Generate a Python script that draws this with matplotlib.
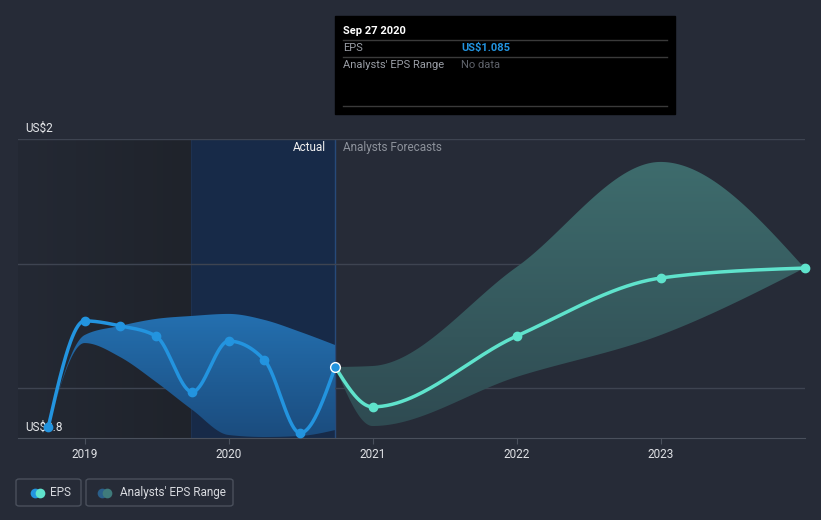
import matplotlib

matplotlib.use("Agg")
import matplotlib.pyplot as plt
import numpy as np
import pandas as pd
from matplotlib.colors import LinearSegmentedColormap
from matplotlib.patches import FancyBboxPatch, Rectangle

plt.rcParams["font.family"] = ["Roboto", "DejaVu Sans"]

# --- data ---
actual_dates = ["2018-09-30", "2018-12-31", "2019-03-31", "2019-06-30", "2019-09-30",
                "2019-12-31", "2020-03-31", "2020-06-30", "2020-09-27"]
actual_eps = [0.844, 1.270, 1.250, 1.209, 0.985, 1.189, 1.113, 0.820, 1.085]
actual_low = [0.844, 1.181, 1.125, 1.025, 0.913, 0.812, 0.804, 0.808, 0.832]
actual_high = [0.844, 1.213, 1.250, 1.278, 1.290, 1.298, 1.274, 1.226, 1.173]

fc_dates = ["2020-09-27", "2020-12-31", "2021-12-31", "2022-12-31", "2023-12-31"]
fc_eps = [1.085, 0.925, 1.209, 1.442, 1.482]
fc_low = [1.085, 0.848, 1.045, 1.213, 1.482]
fc_high = [1.085, 1.089, 1.486, 1.908, 1.482]

year_ticks = [2019, 2020, 2021, 2022, 2023]
y_labels = {2.0: "US$2", 0.8: "US$0.8"}

BG = "#262b37"
BLUE = "#2394df"
TEAL = "#5fe3cc"


def to_year(dates):
    d = pd.to_datetime(pd.Series(dates))
    start = pd.to_datetime(d.dt.year.astype(str) + "-01-01")
    length = np.where(d.dt.is_leap_year, 366, 365)
    return (d.dt.year + (d - start).dt.days / length).to_numpy(dtype=float)


def monotone(x, y, n=60):
    x = np.asarray(x, float)
    y = np.asarray(y, float)
    h = np.diff(x)
    s = np.diff(y) / h
    m = np.zeros_like(y)
    for k in range(1, len(y) - 1):
        p = (s[k - 1] * h[k] + s[k] * h[k - 1]) / (h[k - 1] + h[k])
        m[k] = (np.sign(s[k - 1]) + np.sign(s[k])) * min(abs(s[k - 1]), abs(s[k]), 0.5 * abs(p))
    m[0] = (3 * s[0] - m[1]) / 2 if len(y) > 2 else s[0]
    m[-1] = (3 * s[-1] - m[-2]) / 2 if len(y) > 2 else s[-1]
    xs, ys = [], []
    for k in range(len(h)):
        t = np.linspace(0, 1, n, endpoint=(k == len(h) - 1))
        h00 = 2 * t**3 - 3 * t**2 + 1
        h10 = t**3 - 2 * t**2 + t
        h01 = -2 * t**3 + 3 * t**2
        h11 = t**3 - t**2
        xs.append(x[k] + t * h[k])
        ys.append(h00 * y[k] + h10 * h[k] * m[k] + h01 * y[k + 1] + h11 * h[k] * m[k + 1])
    return np.concatenate(xs), np.concatenate(ys)


def gradient_fill(ax, x, lo, hi, top, bottom, zorder, alpha=1.0):
    poly = ax.fill_between(x, lo, hi, color="none", lw=0)
    cmap = LinearSegmentedColormap.from_list("g", [bottom, top])
    grad = np.linspace(0, 1, 256).reshape(-1, 1)
    im = ax.imshow(grad, cmap=cmap, aspect="auto", origin="lower", alpha=alpha,
                   extent=[x.min(), x.max(), min(lo.min(), hi.min()), max(lo.max(), hi.max())],
                   zorder=zorder, interpolation="bilinear")
    im.set_clip_path(poly.get_paths()[0], transform=ax.transData)


ax_x = to_year(actual_dates)
fc_x = to_year(fc_dates)
x_now = ax_x[-1]
x_left = 2018.535
x_right = 2024.0

fig = plt.figure(figsize=(8.21, 5.2), dpi=100)
fig.patch.set_facecolor(BG)
ax = fig.add_axes([18 / 821, 82 / 520, 787 / 821, 299 / 520])
ax.set_facecolor(BG)
ax.set_xlim(x_left, x_right)
ax.set_ylim(0.8, 2.0)

# background regions
shade = LinearSegmentedColormap.from_list("s", ["#242934", "#1f232b"])
ax.imshow(np.linspace(0, 1, 256).reshape(1, -1), cmap=shade, aspect="auto",
          extent=[x_left, x_now - 1.0, 0.8, 2.0], zorder=0, interpolation="bilinear")
ax.axvspan(x_now - 1.0, x_now, color="#172a48", zorder=0, lw=0)
ax.axvline(x_now - 1.0, color="#1d3150", lw=0.8, zorder=1)
ax.axvline(x_now, color="#274a7a", lw=1, zorder=1)

for g in [1.0, 1.5, 2.0]:
    ax.axhline(g, color="#3e4451", lw=1, zorder=1)

# bands
bx, bhi = monotone(ax_x, actual_high)
_, blo = monotone(ax_x, actual_low)
gradient_fill(ax, bx, blo, bhi, "#2470b0", "#1b4c7e", zorder=2)

fx, fhi = monotone(fc_x, fc_high)
_, flo = monotone(fc_x, fc_low)
gradient_fill(ax, fx, flo, fhi, "#3e6c6d", "#2f4b52", zorder=2)

# lines
lx, ly = monotone(ax_x, actual_eps)
ax.plot(lx, ly, color=BLUE, lw=2.5, zorder=4, solid_capstyle="round")
ax.plot(ax_x[:-1], actual_eps[:-1], "o", color=BLUE, ms=6, zorder=5)

kx, ky = monotone(fc_x, fc_eps)
ax.plot(kx, ky, color=TEAL, lw=2.5, zorder=4, solid_capstyle="round")
ax.plot(fc_x[1:], fc_eps[1:], "o", color=TEAL, ms=6, zorder=5, clip_on=False)
ax.plot([x_now], [actual_eps[-1]], "o", color=BLUE, mec="white", mew=1, ms=7, zorder=6)

# y labels under the markers
for v, lab in y_labels.items():
    ax.text(2018.585, v + 0.018, lab, color="#e6e8eb", fontsize=8.5, va="bottom",
            ha="left", zorder=3)

ax.text(x_now - 0.065, 1.965, "Actual", color="#f0f0f0", fontsize=8.5, ha="right", va="center", zorder=3)
ax.text(x_now + 0.055, 1.965, "Analysts Forecasts", color="#8d929b", fontsize=8.5, ha="left",
        va="center", zorder=3)

# axes styling
for side in ["top", "right", "left"]:
    ax.spines[side].set_visible(False)
ax.spines["bottom"].set_color("#4a505c")
ax.set_yticks([])
ax.set_xticks(year_ticks)
ax.set_xticklabels([str(y) for y in year_ticks])
ax.tick_params(axis="x", colors="#4a505c", length=4, labelcolor="#e0e2e6", labelsize=8.5, pad=3)


def fy(py):
    return 1 - py / 520


def fxp(px):
    return px / 821


# tooltip box
fig.patches.append(Rectangle((fxp(335), fy(114)), 340 / 821, 98 / 520,
                             transform=fig.transFigure, color="black", zorder=10))
fig.text(fxp(343), fy(31), "Sep 27 2020", color="white", fontsize=8, fontweight="bold",
         va="center", zorder=11)
fig.text(fxp(343), fy(48), "EPS", color="#9a9ea6", fontsize=8, va="center", zorder=11)
fig.text(fxp(461), fy(48), "US$1.085", color=BLUE, fontsize=8, fontweight="bold", va="center", zorder=11)
fig.text(fxp(343), fy(65), "Analysts' EPS Range", color="#9a9ea6", fontsize=8, va="center", zorder=11)
fig.text(fxp(461), fy(65), "No data", color="#5f636b", fontsize=8, va="center", zorder=11)
for py in [40, 57, 106]:
    fig.lines.append(plt.Line2D([fxp(343), fxp(667)], [fy(py), fy(py)], transform=fig.transFigure,
                                color="#3a3a3a", lw=1, zorder=11))

# legend boxes
for (x0, w) in [(16, 65), (86, 147)]:
    fig.patches.append(FancyBboxPatch((fxp(x0), fy(506)), w / 821, 27 / 520,
                                      boxstyle="round,pad=0,rounding_size=0.004",
                                      transform=fig.transFigure, fc="none", ec="#4a505c", lw=1))
for cx, col in [(35, BLUE), (40, TEAL), (102, "#2a5f8a"), (107, "#3f7b7b")]:
    fig.lines.append(plt.Line2D([fxp(cx)], [fy(492.5)], transform=fig.transFigure, marker="o",
                                ms=7, color=col, mew=0))
fig.text(fxp(50), fy(492.5), "EPS", color="#d8dadf", fontsize=8.5, va="center")
fig.text(fxp(120), fy(492.5), "Analysts' EPS Range", color="#d8dadf", fontsize=8.5, va="center")

fig.savefig("out.png", dpi=100, facecolor=BG)
